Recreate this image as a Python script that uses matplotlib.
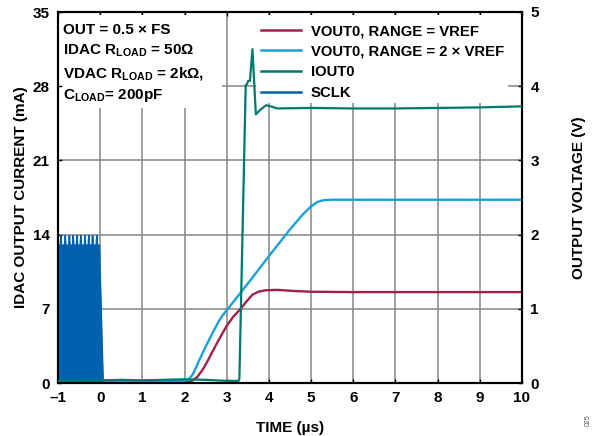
import matplotlib
matplotlib.use("Agg")
import matplotlib.pyplot as plt
from matplotlib.patches import Rectangle
from matplotlib.lines import Line2D

plt.rcParams['font.family'] = ['Liberation Sans', 'DejaVu Sans']
plt.rcParams['font.weight'] = 'bold'
plt.rcParams['mathtext.default'] = 'regular'

# ---- data -------------------------------------------------------------
# VOUT0 with RANGE = VREF (V)
vref_t = [-1.0, 2.0, 2.15, 2.3, 2.43, 2.55, 2.66, 2.8, 2.9, 3.0, 3.15, 3.33,
          3.5, 3.61, 3.75, 3.92, 4.2, 4.6, 5.0, 6.0, 10.0]
vref_v = [0.01, 0.01, 0.02, 0.08, 0.18, 0.30, 0.42, 0.57, 0.67, 0.77, 0.89, 1.00,
          1.12, 1.19, 1.23, 1.25, 1.255, 1.24, 1.23, 1.225, 1.225]

# VOUT0 with RANGE = 2 x VREF (V)
vref2_t = [-1.0, 2.0, 2.1, 2.2, 2.35, 2.5, 2.66, 2.8, 2.9, 3.0, 3.5, 4.0, 4.5,
           4.8, 5.0, 5.15, 5.3, 5.5, 10.0]
vref2_v = [0.03, 0.03, 0.05, 0.12, 0.31, 0.49, 0.67, 0.82, 0.91, 0.98, 1.34, 1.71,
           2.07, 2.27, 2.38, 2.44, 2.465, 2.47, 2.47]

# IOUT0 (mA)
iout_t = [-1.0, 0.0, 0.5, 1.0, 1.5, 2.0, 2.5, 3.0, 3.28, 3.30, 3.45, 3.48, 3.51,
          3.55, 3.61, 3.69, 3.79, 3.93, 4.0, 4.2, 5.0, 6.0, 7.0, 8.0, 9.0, 10.0]
iout_ma = [0.2, 0.25, 0.3, 0.25, 0.3, 0.35, 0.3, 0.2, 0.2, 0.4, 28.1, 28.2, 28.5,
           28.5, 31.5, 25.35, 25.75, 26.2, 26.15, 25.9, 25.95, 25.9, 25.9, 25.95,
           26.0, 26.1]

# SCLK burst (drawn on the mA scale)
sclk_start, sclk_stop, sclk_end = -1.0, -0.02, 0.07
sclk_high = 13.0
sclk_peak = 13.9
sclk_spikes = [-0.93, -0.83, -0.73, -0.64, -0.55, -0.46, -0.36, -0.27, -0.18, -0.08]

xticks = [-1, 0, 1, 2, 3, 4, 5, 6, 7, 8, 9, 10]
ma_ticks = [0, 7, 14, 21, 28, 35]
v_ticks = [0, 1, 2, 3, 4, 5]

legend_labels = ["VOUT0, RANGE = VREF", "VOUT0, RANGE = 2 × VREF", "IOUT0", "SCLK"]
note_lines = ["OUT = 0.5 × FS",
              r"IDAC R$_{LOAD}$ = 50Ω",
              r"VDAC R$_{LOAD}$ = 2kΩ,",
              r"C$_{LOAD}$= 200pF"]

c_vref = '#A3204B'
c_vref2 = '#1AA0D8'
c_iout = '#007A6C'
c_sclk = '#0062AE'
grid_c = '#858585'

# ---- figure -----------------------------------------------------------
W, H = 596, 436
fig = plt.figure(figsize=(W / 100, H / 100), dpi=100)
L, R, T, B = 58, 522, 12, 383
ax = fig.add_axes([L / W, 1 - B / H, (R - L) / W, (B - T) / H])   # volts
ax2 = ax.twinx()                                                   # milliamps


def ax_x(px):
    return (px - L) / (R - L)


def ax_y(py):
    return (B - py) / (B - T)


ax.set_xlim(-1, 10)
ax.set_ylim(0, 5)
ax2.set_ylim(0, 35)

# voltage axis lives on the right, current axis on the left
ax.yaxis.tick_right()
ax.yaxis.set_label_position('right')
ax2.yaxis.tick_left()
ax2.yaxis.set_label_position('left')

ax.set_xticks(xticks)
ax.set_xticklabels([str(v).replace('-', '\u2013') for v in xticks])
ax.set_yticks(v_ticks)
ax2.set_yticks(ma_ticks)

ax.grid(True, color=grid_c, lw=1.1)
ax.set_axisbelow('line')

for a in (ax, ax2):
    for s in a.spines.values():
        s.set_linewidth(1.5)
        s.set_color('black')
    a.tick_params(direction='in', length=3, width=1, labelsize=11, colors='black')
ax.tick_params(axis='x', top=True, pad=6)
ax.tick_params(axis='y', pad=6)
ax2.tick_params(axis='y', pad=6)

# white panels behind the conditions note and the legend
for x0, y0, x1, y1 in [(L, 15, 222, 108), (256, 15, 508, 103)]:
    ax.add_patch(Rectangle((ax_x(x0), ax_y(y1)), ax_x(x1) - ax_x(x0),
                           ax_y(y0) - ax_y(y1), transform=ax.transAxes,
                           facecolor='white', edgecolor='none', zorder=1.8))

# voltage traces
ax.plot(vref_t, vref_v, color=c_vref, lw=1.7, zorder=3, solid_joinstyle='round')
ax.plot(vref2_t, vref2_v, color=c_vref2, lw=1.7, zorder=3, solid_joinstyle='round')

# SCLK burst
st, sv = [sclk_start], [sclk_high]
for ts in sclk_spikes:
    st += [ts - 0.012, ts, ts + 0.012]
    sv += [sclk_high, sclk_peak, sclk_high]
st += [sclk_stop, sclk_end, 10.0]
sv += [sclk_high, 0.0, 0.0]
ax2.fill_between(st, 0, sv, color=c_sclk, lw=0, zorder=2)
ax2.plot(st, sv, color=c_sclk, lw=1.2, zorder=2)

# current trace
ax2.plot(iout_t, iout_ma, color=c_iout, lw=1.6, zorder=3, solid_joinstyle='round')

# labels
ax.set_xlabel("TIME (µs)", fontsize=11, fontweight='bold', labelpad=11)
ax2.set_ylabel("IDAC OUTPUT CURRENT (mA)", fontsize=11, fontweight='bold', labelpad=3)
ax.set_ylabel("OUTPUT VOLTAGE (V)", fontsize=11, fontweight='bold', labelpad=24)

# conditions note
for txt, ypx in zip(note_lines, [30, 51, 74, 95]):
    ax2.text(ax_x(63), ax_y(ypx), txt, transform=ax2.transAxes,
             fontsize=11, fontweight='bold', va='center', ha='left', zorder=6)

# legend
handles = [Line2D([], [], color=c, lw=1.8) for c in (c_vref, c_vref2, c_iout, c_sclk)]
leg = ax2.legend(handles, legend_labels, loc='upper left',
                 bbox_to_anchor=(ax_x(261), ax_y(24)),
                 borderaxespad=0, frameon=False,
                 handlelength=2.7, handletextpad=0.65, labelspacing=0.45,
                 borderpad=0, prop={'weight': 'bold', 'size': 10.7})

fig.text(588 / W, 1 - 420 / H, "025", fontsize=5, color='#555555', rotation=90,
         ha='center', va='center', fontweight='normal')

fig.savefig("out.png", dpi=100)
